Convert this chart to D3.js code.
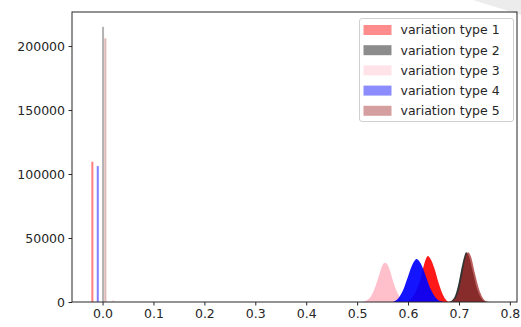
<!DOCTYPE html>
<html>
<head>
<meta charset="utf-8">
<script src="https://cdnjs.cloudflare.com/ajax/libs/d3/7.8.5/d3.min.js"></script>
<style>
  body { margin: 0; background: #fff; }
  svg text { font-family: "DejaVu Sans", sans-serif; fill: #262626; }
</style>
</head>
<body>
<div id="chart"></div>
<script>
// series names and colours
const seriesNames = ["variation type 1", "variation type 2", "variation type 3", "variation type 4", "variation type 5"];
const seriesColors = ["red", "black", "pink", "blue", "brown"];

// tall single-bin spikes near zero: [x, count]
const spikes1 = [[-0.0200, 109600]];
const spikes2 = [[0.0010, 215000]];
const spikes3 = [[0.0210, 1500]];
const spikes4 = [[-0.0094, 106200]];
const spikes5 = [[0.0055, 206000]];

// the bell shaped histograms: [x, count]
const dist1 = [[0.595, 0], [0.605, 2000], [0.615, 8000], [0.625, 19000], [0.632, 30000], [0.639, 35900],
  [0.645, 33000], [0.652, 26000], [0.660, 15000], [0.668, 6000], [0.676, 1000], [0.682, 0]];
const dist2 = [[0.680, 0], [0.690, 3000], [0.698, 12500], [0.705, 26500], [0.710, 35000], [0.714, 38800],
  [0.720, 35000], [0.727, 24000], [0.735, 11000], [0.743, 3500], [0.750, 500], [0.755, 0]];
const dist3 = [[0.510, 0], [0.520, 1500], [0.530, 6500], [0.540, 17000], [0.545, 23500], [0.550, 29000],
  [0.555, 30700], [0.560, 29000], [0.565, 24000], [0.570, 17000], [0.580, 6500], [0.590, 1500], [0.600, 0]];
const dist4 = [[0.570, 0], [0.580, 2500], [0.590, 9000], [0.600, 20000], [0.610, 30500], [0.617, 33600],
  [0.625, 30000], [0.635, 20000], [0.645, 9500], [0.655, 3000], [0.665, 500], [0.670, 0]];
const dist5 = [[0.683, 0], [0.693, 2500], [0.701, 11000], [0.708, 25000], [0.713, 35000], [0.718, 38800],
  [0.724, 35000], [0.731, 23000], [0.739, 10500], [0.747, 3000], [0.755, 400], [0.760, 0]];

const xTicks = [0.0, 0.1, 0.2, 0.3, 0.4, 0.5, 0.6, 0.7, 0.8];
const yTicks = [0, 50000, 100000, 150000, 200000];

const spikeData = [spikes1, spikes2, spikes3, spikes4, spikes5];
const distData = [dist1, dist2, dist3, dist4, dist5];

const width = 521, height = 327;
const margin = {top: 12, right: 4, bottom: 25, left: 72};

const svg = d3.select('#chart').append('svg')
    .attr('width', width)
    .attr('height', height);

// faint grey shape in the top right corner of the picture
svg.append('polygon')
    .attr('points', '473,0 521,0 521,15')
    .attr('fill', '#ececec');

const x = d3.scaleLinear()
    .domain([-0.06, 0.814])
    .range([margin.left, width - margin.right]);
const y = d3.scaleLinear()
    .domain([0, 226600])
    .range([height - margin.bottom, margin.top]);

const plot = svg.append('g');

// spikes, drawn lighter (alpha 0.5 like matplotlib)
const spikeOpacity = [0.5, 0.3, 0.5, 0.5, 0.35];
spikeData.forEach((s, i) => {
    plot.selectAll(null)
        .data(s)
        .enter()
        .append('rect')
        .attr('x', d => x(d[0]) - 1)
        .attr('width', 2)
        .attr('y', d => y(d[1]))
        .attr('height', d => y(0) - y(d[1]))
        .attr('fill', seriesColors[i])
        .attr('fill-opacity', spikeOpacity[i]);
});

// bell shapes; many overlapping thin bars make them look nearly opaque
const area = d3.area()
    .x(d => x(d[0]))
    .y0(y(0))
    .y1(d => y(d[1]))
    .curve(d3.curveMonotoneX);

const distOpacity = [0.9, 0.8, 1, 0.92, 0.75];
distData.forEach((s, i) => {
    plot.append('path')
        .datum(s)
        .attr('d', area)
        .attr('fill', seriesColors[i])
        .attr('fill-opacity', distOpacity[i]);
});

// axes
const xAxis = svg.append('g')
    .attr('transform', `translate(0, ${height - margin.bottom})`)
    .call(d3.axisBottom(x).tickValues(xTicks).tickFormat(d3.format('.1f')).tickSize(3.5).tickPadding(3.5));
const yAxis = svg.append('g')
    .attr('transform', `translate(${margin.left}, 0)`)
    .call(d3.axisLeft(y).tickValues(yTicks).tickFormat(d => d).tickSize(3.5).tickPadding(3.5));
[xAxis, yAxis].forEach(a => {
    a.select('.domain').remove();
    a.selectAll('text').style('font-size', '12.5px').attr('fill', '#262626');
    a.selectAll('line').attr('stroke', '#262626');
});

// frame
svg.append('rect')
    .attr('x', margin.left)
    .attr('y', margin.top)
    .attr('width', width - margin.left - margin.right)
    .attr('height', height - margin.top - margin.bottom)
    .attr('fill', 'none')
    .attr('stroke', '#262626')
    .attr('stroke-width', 1);

// legend
const legend = svg.append('g');
legend.append('rect')
    .attr('x', 359.5)
    .attr('y', 18.5)
    .attr('width', 154)
    .attr('height', 103)
    .attr('rx', 2.5)
    .attr('fill', '#fff')
    .attr('fill-opacity', 0.8)
    .attr('stroke', '#d0d0d0');
const rows = legend.selectAll('g.row')
    .data(seriesNames)
    .enter()
    .append('g')
    .attr('class', 'row')
    .attr('transform', (d, i) => `translate(0, ${30 + i * 20.2})`);
rows.append('rect')
    .attr('x', 363.5)
    .attr('y', -5)
    .attr('width', 28)
    .attr('height', 10)
    .attr('fill', (d, i) => seriesColors[i])
    .attr('fill-opacity', 0.45);
rows.append('text')
    .attr('x', 400.5)
    .attr('dy', '0.35em')
    .style('font-size', '12.5px')
    .text(d => d);
</script>
</body>
</html>
